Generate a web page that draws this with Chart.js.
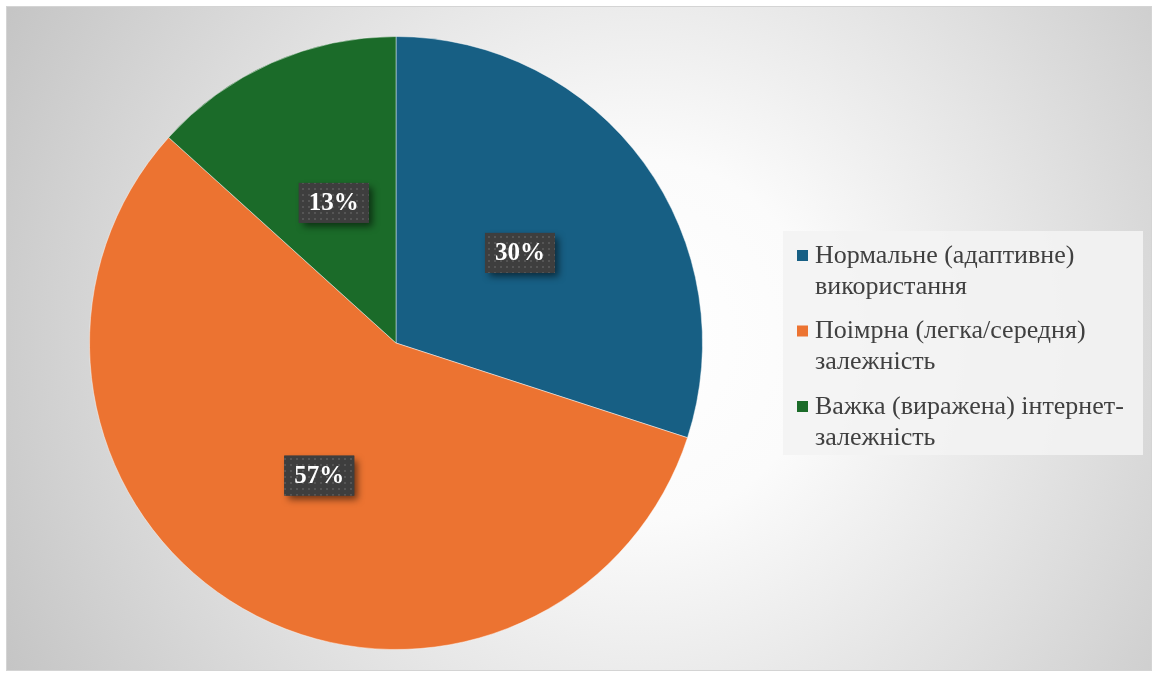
<!DOCTYPE html>
<html>
<head>
<meta charset="utf-8">
<script src="https://cdn.jsdelivr.net/npm/chart.js@4.4.1/dist/chart.umd.min.js"></script>
<style>
html,body{margin:0;padding:0;background:#fff;}
canvas{display:block;}
</style>
</head>
<body>
<canvas id="c" width="1157" height="677"></canvas>
<script>
const categories = [
  ["Нормальне (адаптивне)", "використання"],
  ["Поімрна (легка/середня)", "залежність"],
  ["Важка (виражена) інтернет-", "залежність"]
];
const values = [30, 56.7, 13.3];
const sliceColors = ["#175f84", "#ec7331", "#1b6b29"];

const bgPlugin = {
  id: 'bgPlugin',
  beforeDraw(chart) {
    const ctx = chart.ctx;
    ctx.save();
    ctx.fillStyle = '#ffffff';
    ctx.fillRect(0, 0, chart.width, chart.height);
    const g = ctx.createRadialGradient(640, 340, 0, 640, 340, 720);
    g.addColorStop(0, '#ffffff');
    g.addColorStop(0.25, '#fbfbfb');
    g.addColorStop(1, '#c4c4c4');
    ctx.fillStyle = g;
    ctx.fillRect(6, 6, 1146, 665);
    ctx.strokeStyle = '#d4d4d4';
    ctx.lineWidth = 1;
    ctx.strokeRect(6.5, 6.5, 1145, 664);
    ctx.restore();
  }
};

function makePattern(ctx) {
  const p = document.createElement('canvas');
  p.width = 6; p.height = 6;
  const pc = p.getContext('2d');
  pc.fillStyle = '#3e3e3e';
  pc.fillRect(0, 0, 6, 6);
  pc.fillStyle = '#555555';
  pc.fillRect(2, 2, 2, 2);
  return ctx.createPattern(p, 'repeat');
}

const labelPlugin = {
  id: 'labelPlugin',
  afterDatasetsDraw(chart) {
    const ctx = chart.ctx;
    const meta = chart.getDatasetMeta(0);
    const total = values.reduce((a, b) => a + b, 0);
    const pat = makePattern(ctx);
    meta.data.forEach((arc, i) => {
      const pt = arc.getCenterPoint();
      const txt = Math.round(values[i] / total * 100) + '%';
      const w = 70, h = 40;
      ctx.save();
      ctx.shadowColor = 'rgba(0,0,0,0.55)';
      ctx.shadowBlur = 7;
      ctx.shadowOffsetX = 4;
      ctx.shadowOffsetY = 4;
      ctx.fillStyle = '#3e3e3e';
      ctx.fillRect(pt.x - w / 2, pt.y - h / 2, w, h);
      ctx.restore();
      ctx.save();
      ctx.fillStyle = pat;
      ctx.fillRect(pt.x - w / 2, pt.y - h / 2, w, h);
      ctx.fillStyle = '#ffffff';
      ctx.font = 'bold 25px "Liberation Serif", "Times New Roman", serif';
      ctx.textAlign = 'center';
      ctx.textBaseline = 'middle';
      ctx.fillText(txt, pt.x, pt.y + 1);
      ctx.restore();
    });
  }
};

const legendPlugin = {
  id: 'legendPlugin',
  afterDraw(chart) {
    const ctx = chart.ctx;
    ctx.save();
    ctx.fillStyle = 'rgba(243,243,243,0.9)';
    ctx.fillRect(783, 231, 360, 224);
    ctx.font = '26px "Liberation Serif", "Times New Roman", serif';
    ctx.textBaseline = 'middle';
    const startY = 256, lineH = 31, itemGap = 75.5;
    categories.forEach((lines, i) => {
      const y0 = startY + i * itemGap;
      ctx.fillStyle = sliceColors[i];
      ctx.fillRect(797, y0 - 6, 11, 11);
      ctx.fillStyle = '#404040';
      lines.forEach((ln, j) => {
        ctx.fillText(ln, 815, y0 + j * lineH);
      });
    });
    ctx.restore();
  }
};

new Chart(document.getElementById('c'), {
  type: 'pie',
  data: {
    labels: categories.map(l => l.join(' ')),
    datasets: [{
      data: values,
      backgroundColor: sliceColors,
      borderColor: 'rgba(255,255,255,0.45)',
      borderWidth: 1
    }]
  },
  options: {
    responsive: false,
    animation: false,
    layout: { padding: { left: 89, right: 454, top: 36, bottom: 27 } },
    plugins: {
      legend: { display: false },
      tooltip: { enabled: false }
    }
  },
  plugins: [bgPlugin, labelPlugin, legendPlugin]
});
</script>
</body>
</html>
